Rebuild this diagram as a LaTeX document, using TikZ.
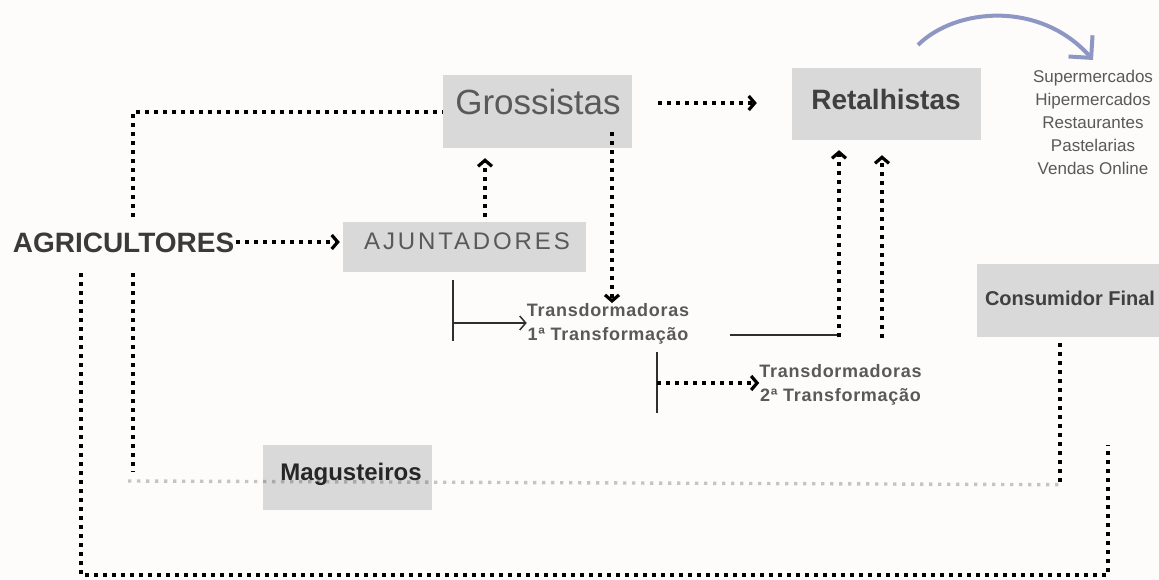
\documentclass[tikz,border=0pt]{standalone}
\usepackage{fontspec}
\setmainfont{Liberation Sans}
\usetikzlibrary{arrows.meta,calc}
\definecolor{bgc}{HTML}{FDFCFB}
\definecolor{boxgray}{HTML}{D9D9D9}
\definecolor{txtgray}{HTML}{595959}
\definecolor{txtdark}{HTML}{404040}
\definecolor{arclav}{HTML}{8E96C4}
\definecolor{lineblk}{HTML}{2E2E2E}
\begin{document}
\begin{tikzpicture}[x=1pt,y=-1pt,
  box/.style={fill=boxgray, draw=none, inner sep=0pt},
  lbl/.style={inner sep=0pt, anchor=base},
  dotl/.style={line width=3.6pt, dash pattern=on 3.6pt off 5.4pt, black},
  greydot/.style={line width=3.4pt, dash pattern=on 3.4pt off 5.6pt, black, opacity=0.22},
  chev/.style={-{Straight Barb[length=6pt,width=14pt,line width=3.2pt]}},
  solidln/.style={line width=2pt, lineblk},
  openarr/.style={-{Straight Barb[length=6pt,width=14pt,line width=1.5pt]}},
  tflbl/.style={inner sep=0pt, anchor=north, align=center, text=txtgray, font=\fontsize{18}{24}\selectfont\bfseries\addfontfeature{LetterSpace=4}},
]
\useasboundingbox[fill=bgc] (0,0) rectangle (1159,580);

% boxes
\node[box, minimum width=189pt, minimum height=73pt] (gro) at (537.5,111.5) {};
\node[box, minimum width=189pt, minimum height=72pt] (ret) at (886.5,104) {};
\node[box, minimum width=243pt, minimum height=50pt] (aju) at (464.5,247) {};
\node[box, minimum width=185pt, minimum height=73pt] (con) at (1069.5,300.5) {};
\node[box, minimum width=169pt, minimum height=65pt] (mag) at (347.5,477.5) {};

% grey dotted line over Magusteiros box
\draw[greydot] (128,481) -- ($(con.south)+(-9.5,147.5)$);

% texts
\node[lbl, text=txtgray, font=\fontsize{35}{40}\selectfont] (groT) at (538,115) {Grossistas};
\node[lbl, text=txtdark, font=\fontsize{28}{32}\selectfont\bfseries] (retT) at (886,110) {Retalhistas};
\node[lbl, text=txtdark!90!black, font=\fontsize{28}{32}\selectfont\bfseries] (agr) at (123.5,252) {AGRICULTORES};
\node[lbl, text=txtgray, font=\fontsize{24}{28}\selectfont\addfontfeature{LetterSpace=12}] (ajuT) at (467,250) {AJUNTADORES};
\node[lbl, text=txtdark, font=\fontsize{20}{24}\selectfont\bfseries] (conT) at (1070,305) {Consumidor Final};
\node[lbl, text=black!85, font=\fontsize{24}{28}\selectfont\bfseries] (magT) at (351,480) {Magusteiros};
\node[inner sep=0pt, anchor=north, align=center, text=txtgray, font=\fontsize{17}{23}\selectfont] (lst) at (1093,69.5)
  {Supermercados\\Hipermercados\\Restaurantes\\Pastelarias\\Vendas Online};
\node[tflbl] (t1) at (608,303) {Transdormadoras\\1ª Transformação};
\node[tflbl] (t2) at (840.5,364) {Transdormadoras\\2ª Transformação};

% free-end coordinates
\coordinate (agrUp) at (133,217);
\coordinate (agrDn) at (133,273);
\coordinate (agrDn2) at (81,273);
\coordinate (brk1) at (453,280);
\coordinate (brk2) at (657,352);
\coordinate (t1out) at (730,335);
\coordinate (endR) at (1108,445);

% connectors
\draw[dotl] (agrUp) -- (133,112) -- ($(gro.west)+(0,0.5)$);
\draw[dotl,chev] (236,242) -- ($(aju.west)+(-3,-5)$);
\draw[dotl,chev] ($(aju.north)+(20.5,-5)$) -- ($(gro.south)+(-52.5,10)$);
\draw[dotl,chev] ($(gro.east)+(26,-8.5)$) -- ($(ret.west)+(-35,-1)$);
\draw[dotl,chev] ($(gro.south)+(74.5,-16)$) -- (t1.north -| 612,0);
\draw[solidln] (brk1) -- (453,341);
\draw[solidln,openarr] (453,323) -- (t1.west |- 0,323);
\draw[solidln] (t1out) -- (839,335);
\draw[dotl,chev] (839,337) -- ($(ret.south)+(-47.5,10)$);
\draw[dotl,chev] (882,338) -- ($(ret.south)+(-4.5,15)$);
\draw[solidln] (brk2) -- (657,413);
\draw[dotl,chev] (657,383) -- (t2.west |- 0,383);
\draw[dotl] ($(con.south)+(-9.5,6)$) -- (1060,485);
\draw[dotl] (agrDn) -- (133,472);
\draw[dotl] (agrDn2) -- (81,575) -- (1108,575) -- (endR);

% curved arrow
\draw[arclav, line width=4pt, -{Straight Barb[length=16pt,width=32pt,line width=4pt]}]
  (918,45) .. controls (955,8) and (1040,0) .. (1093,60);
\end{tikzpicture}
\end{document}
